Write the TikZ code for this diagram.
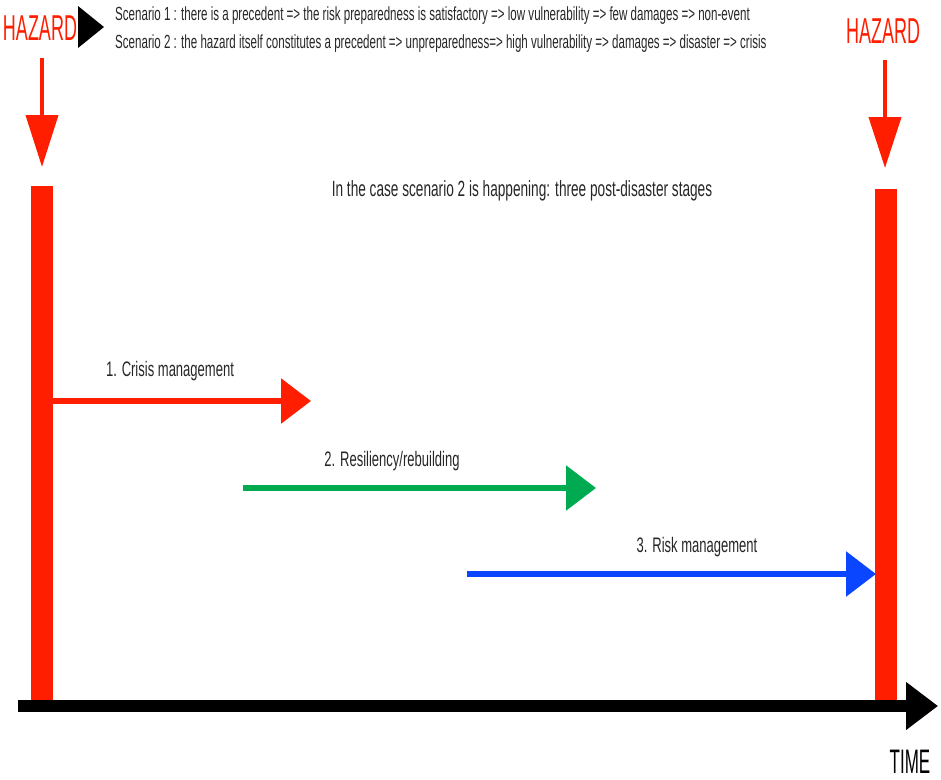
\documentclass[tikz,border=0pt]{standalone}
\usepackage{fontspec}
\setmainfont{Liberation Sans}
\newfontfamily\cond[FakeStretch=0.62]{Liberation Sans}
\newfontfamily\conds[FakeStretch=0.609]{Liberation Sans}
\newfontfamily\condb[FakeStretch=0.5]{Liberation Sans}
\usetikzlibrary{arrows.meta}
\definecolor{hred}{RGB}{255,30,0}
\definecolor{hgreen}{RGB}{0,170,80}
\definecolor{hblue}{RGB}{10,70,255}
\tikzset{
  lbl/.style={font=\cond\fontsize{21}{24}\selectfont, inner sep=0pt, text=black!85},
  scen/.style={font=\conds\fontsize{19}{22}\selectfont, inner sep=0pt, text=black!85, anchor=west},
  haz/.style={font=\condb\fontsize{36}{40}\selectfont, inner sep=0pt, text=hred},
  bar/.style={fill=hred, draw=none},
  stage/.style={line width=6pt, -{Triangle[length=30pt,width=44pt]}},
}
\begin{document}
\begin{tikzpicture}[x=1pt,y=-1pt]
\useasboundingbox (0,0) rectangle (941,779);
% hazard labels
\node[haz] (hzl) at (40,28) {HAZARD};
\node[haz] (hzr) at (883,31) {HAZARD};
% black pointer triangle
\fill[black] (78,6) -- (104,27) -- (78,48) -- cycle;
% scenario text
\node[scen] (s1) at (115,16) {Scenario 1 : there is a precedent => the risk preparedness is satisfactory => low vulnerability => few damages => non-event};
\node[scen] (s2) at (115,44) {Scenario 2 : the hazard itself constitutes a precedent => unpreparedness=> high vulnerability => damages => disaster => crisis};
% hazard down arrows
\coordinate (la) at (42,58); \coordinate (lb) at (42,167);
\coordinate (ra) at (885,60); \coordinate (rb) at (885,168);
\draw[hred, line width=4pt, -{Triangle[length=52pt,width=32pt]}] (la) -- (lb);
\draw[hred, line width=4pt, -{Triangle[length=51pt,width=32pt]}] (ra) -- (rb);
% bars
\fill[bar] (31,186) rectangle (53,702);
\fill[bar] (875,189) rectangle (897,702);
% title
\node[lbl, font=\cond\fontsize{22}{26}\selectfont] (t) at (522,191) {In the case scenario 2 is happening: three post-disaster stages};
% stages
\coordinate (a1) at (53,401); \coordinate (b1) at (311,401);
\coordinate (a2) at (243,488); \coordinate (b2) at (596,488);
\coordinate (a3) at (467,574); \coordinate (b3) at (876,574);
\draw[stage, hred] (a1) -- (b1);
\draw[stage, hgreen] (a2) -- (b2);
\draw[stage, hblue] (a3) -- (b3);
\node[lbl] (l1) at (170,371) {1. Crisis management};
\node[lbl] (l2) at (392,461) {2. Resiliency/rebuilding};
\node[lbl] (l3) at (697,547) {3. Risk management};
% time axis
\coordinate (ta) at (18,706); \coordinate (tb) at (938,706);
\draw[black, line width=12pt, -{Triangle[length=32pt,width=46pt]}] (ta) -- (tb);
\node[haz, text=black, font=\condb\fontsize{34}{38}\selectfont] (time) at (910,762) {TIME};
\end{tikzpicture}
\end{document}
